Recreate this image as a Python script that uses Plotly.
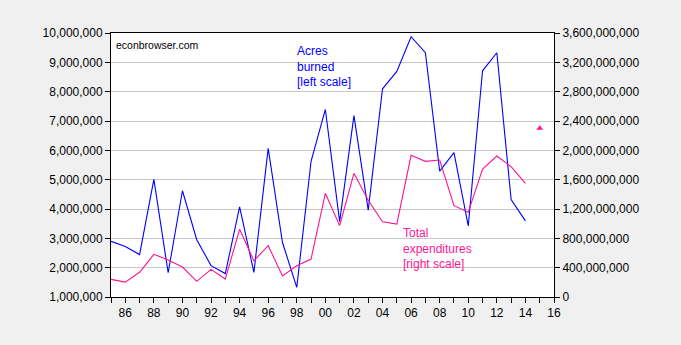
import plotly.graph_objects as go

# Wildfire statistics, 1985-2014
years = list(range(1985, 2015))
acres_burned = [
    2896147, 2719162, 2447296, 5009290, 1827310, 4621621, 2953578, 2069929,
    1797574, 4073579, 1840546, 6065998, 2856959, 1329704, 5626093, 7393493,
    3570911, 7184712, 3960842, 8097880, 8689389, 9873745, 9328045, 5292468,
    5921786, 3422724, 8711367, 9326238, 4319546, 3595613,
]
total_expenditures = [
    241e6, 203e6, 337e6, 582e6, 505e6, 409e6, 214e6, 377e6,
    245e6, 923e6, 495e6, 700e6, 286e6, 427e6, 518e6, 1414e6,
    973e6, 1687e6, 1320e6, 1027e6, 995e6, 1932e6, 1850e6, 1868e6,
    1246e6, 1155e6, 1745e6, 1923e6, 1777e6, 1550e6,
]
# 2015 expenditure point
extra_year = [2015]
extra_expenditure = [2.30e9]

x_tickvals = list(range(1986, 2017, 2))
x_ticktext = [f"{y % 100:02d}" for y in x_tickvals]
left_ticks = list(range(1000000, 10000001, 1000000))
right_ticks = [i * 400000000 for i in range(10)]

BLUE = "#0000ff"
PINK = "#ff1493"
FONT = "Liberation Sans, Arial, sans-serif"

fig = go.Figure()
fig.add_trace(go.Scatter(
    x=years, y=acres_burned, mode="lines",
    line=dict(color=BLUE, width=1.1), yaxis="y", showlegend=False,
))
fig.add_trace(go.Scatter(
    x=years, y=total_expenditures, mode="lines",
    line=dict(color=PINK, width=1.1), yaxis="y2", showlegend=False,
))
fig.add_trace(go.Scatter(
    x=extra_year, y=extra_expenditure, mode="markers",
    marker=dict(symbol="triangle-up", color=PINK, size=6),
    yaxis="y2", showlegend=False,
))

fig.update_layout(
    width=681, height=345,
    margin=dict(l=111, r=127, t=33, b=48),
    paper_bgcolor="#f0f0f0",
    plot_bgcolor="#ffffff",
    font=dict(family=FONT, size=12, color="#000000"),
    xaxis=dict(
        range=[1985, 2016],
        tickvals=x_tickvals, ticktext=x_ticktext,
        ticks="outside", ticklen=5, tickcolor="#000",
        minor=dict(dtick=1, tick0=1985, ticks="outside", ticklen=5, tickcolor="#000"),
        showgrid=False, zeroline=False,
        showline=True, linecolor="#000", linewidth=1, mirror=True,
        tickfont=dict(size=12),
    ),
    yaxis=dict(
        range=[1000000, 10000000],
        tickvals=left_ticks,
        tickformat=",d",
        ticks="outside", ticklen=5, tickcolor="#000",
        showgrid=True, gridcolor="#c8c8c8", gridwidth=1,
        zeroline=False,
        showline=True, linecolor="#000", linewidth=1,
        tickfont=dict(size=12),
    ),
    yaxis2=dict(
        range=[0, 3600000000],
        tickvals=right_ticks,
        tickformat=",d",
        overlaying="y", side="right",
        ticks="outside", ticklen=5, tickcolor="#000",
        showgrid=False, zeroline=False,
        showline=True, linecolor="#000", linewidth=1,
        tickfont=dict(size=12),
    ),
)

fig.add_annotation(
    xref="paper", yref="paper", x=0.006, y=0.985,
    xanchor="left", yanchor="top", showarrow=False,
    text="econbrowser.com", font=dict(size=10.5, color="#000"),
)
fig.add_annotation(
    xref="x", yref="paper", x=1997.9, y=0.965,
    xanchor="left", yanchor="top", showarrow=False, align="left",
    text="Acres<br>burned<br>[left scale]",
    font=dict(size=12, color=BLUE),
)
fig.add_annotation(
    xref="x", yref="paper", x=2005.3, y=0.278,
    xanchor="left", yanchor="top", showarrow=False, align="left",
    text="Total<br>expenditures<br>[right scale]",
    font=dict(size=12, color=PINK),
)

fig.write_html("out.html")
